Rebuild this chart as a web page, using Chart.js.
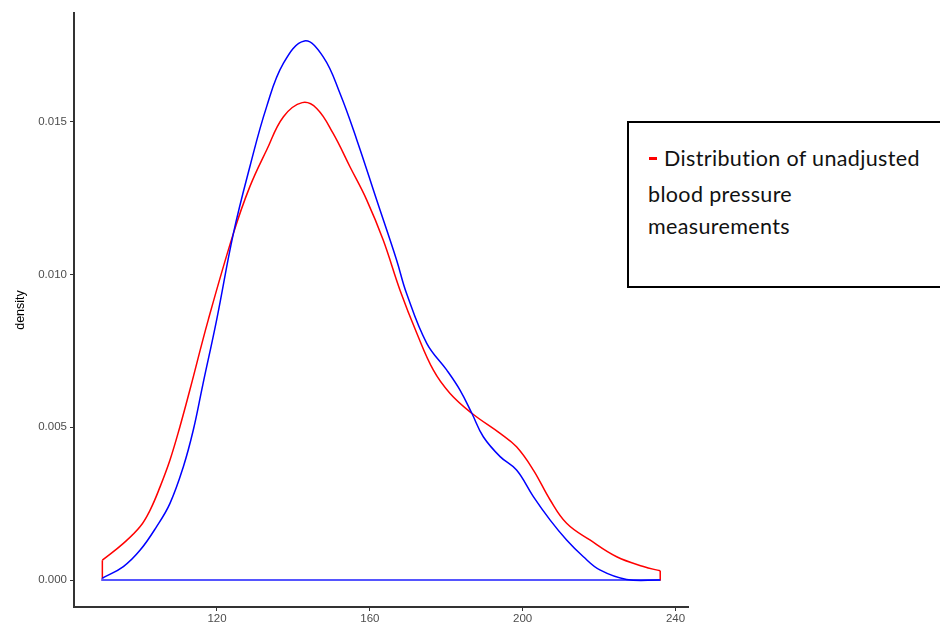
<!DOCTYPE html>
<html>
<head>
<meta charset="utf-8">
<script src="https://cdn.jsdelivr.net/npm/chart.js@4"></script>
<style>
  body { margin: 0; background: #fff; }
  #wrap { position: relative; width: 940px; height: 624px; }
  #legendBox {
    position: absolute; left: 627px; top: 121px; width: 330px; height: 163px;
    border: 2px solid #000; background: #fff;
    font-family: Lato, "Open Sans", sans-serif; font-size: 21.5px; letter-spacing: 0.35px; color: #111;
  }
  #legendBox .ln { position: absolute; white-space: nowrap; line-height: 25.8px; }
  #legendBox .dash { position: absolute; background: #ff0000; }
</style>
</head>
<body>
<div id="wrap">
  <canvas id="myChart" width="940" height="624"></canvas>
  <div id="legendBox">
    <span class="dash" style="left:20px; top:33.5px; width:8px; height:3px;"></span>
    <span class="ln" style="left:35px; top:22.5px;">Distribution of unadjusted</span>
    <span class="ln" style="left:19px; top:59px;">blood pressure</span>
    <span class="ln" style="left:19px; top:91px;">measurements</span>
  </div>
</div>
<script>
// density curves
const redX = [90, 95.5, 99.9, 102.5, 105.1, 107.7, 110.3, 112.9, 117.7, 124.3, 128.6, 133.0, 137.4, 142.3, 146.1, 150.4, 154.8, 159.2, 163.5, 167.9, 172.3, 176.6, 181.0, 186.7, 194.1, 198.4, 202.8, 207.2, 211.5, 217.6, 224.6, 231.6, 236];
const redY = [0.00065, 0.00120, 0.00175, 0.00229, 0.00305, 0.00393, 0.00502, 0.00622, 0.00851, 0.01135, 0.01288, 0.01408, 0.01517, 0.01563, 0.01544, 0.01462, 0.01353, 0.01244, 0.01113, 0.00949, 0.00808, 0.00688, 0.00611, 0.00546, 0.00480, 0.00436, 0.00360, 0.00262, 0.00186, 0.00131, 0.00076, 0.00044, 0.00030];

const blueX = [90, 95.5, 99.9, 104.2, 107.7, 111.2, 113.8, 116.3, 119.9, 124.3, 128.6, 133.0, 137.4, 142.9, 147.8, 152.2, 156.6, 161.8, 167.0, 169.6, 174.9, 180.1, 183.6, 186.7, 189.7, 194.1, 198.4, 202.8, 207.2, 211.5, 215.9, 220.2, 227.2, 236];
const blueY = [0.00006, 0.00044, 0.00098, 0.00175, 0.00251, 0.00371, 0.00491, 0.00640, 0.00851, 0.01135, 0.01353, 0.01550, 0.01692, 0.01765, 0.01713, 0.01593, 0.01441, 0.01244, 0.01048, 0.00939, 0.00775, 0.00688, 0.00622, 0.00546, 0.00469, 0.00404, 0.00360, 0.00273, 0.00196, 0.00131, 0.00076, 0.00033, 0.00002, 0.0];

const xTicks = [120, 160, 200, 240];
const yTicks = [0, 0.005, 0.010, 0.015];

function toPoints(xs, ys) {
  return xs.map((x, i) => ({ x: x, y: ys[i] }));
}

// closing edges of each density outline (down to zero and along the base)
function edgePoints(xs, ys) {
  const n = xs.length - 1;
  return [
    { x: xs[0], y: ys[0] }, { x: xs[0], y: 0 },
    { x: xs[n], y: 0 }, { x: xs[n], y: ys[n] }
  ];
}

const ctx = document.getElementById('myChart').getContext('2d');

new Chart(ctx, {
  type: 'line',
  data: {
    datasets: [
      {
        data: toPoints(blueX, blueY),
        borderColor: '#0000ff', borderWidth: 1.5,
        tension: 0.4, pointRadius: 0, order: 1
      },
      {
        data: edgePoints(blueX, blueY),
        borderColor: '#5555ff', borderWidth: 2,
        tension: 0, pointRadius: 0, order: 2
      },
      {
        data: toPoints(redX, redY),
        borderColor: '#ff0000', borderWidth: 1.5,
        tension: 0.4, pointRadius: 0, order: 3
      },
      {
        data: edgePoints(redX, redY),
        borderColor: '#ff0000', borderWidth: 1.5,
        tension: 0, pointRadius: 0, order: 4
      }
    ]
  },
  options: {
    responsive: false,
    animation: false,
    layout: { padding: { top: 13, right: 252, left: 0, bottom: 0 } },
    plugins: { legend: { display: false }, tooltip: { enabled: false } },
    scales: {
      x: {
        type: 'linear',
        min: 82.58, max: 243.27,
        afterBuildTicks: (scale) => { scale.ticks = xTicks.map(v => ({ value: v })); },
        afterFit: (scale) => { scale.height = 17; },
        ticks: {
          color: '#4d4d4d', padding: 1, maxRotation: 0,
          font: { family: '"Liberation Sans", Arial, sans-serif', size: 11.5 },
          callback: (v) => String(v)
        },
        grid: { drawOnChartArea: false, drawTicks: true, tickLength: 4, color: '#333', lineWidth: 1 },
        border: { display: true, color: '#333', width: 2 }
      },
      y: {
        type: 'linear',
        min: -0.000884, max: 0.018565,
        afterBuildTicks: (scale) => { scale.ticks = yTicks.map(v => ({ value: v })); },
        afterFit: (scale) => { scale.width = 74; },
        ticks: {
          color: '#4d4d4d', padding: 3,
          font: { family: '"Liberation Sans", Arial, sans-serif', size: 11.5 },
          callback: (v) => Number(v).toFixed(3)
        },
        title: {
          display: true, text: 'density', color: '#000',
          padding: { top: 13, bottom: 0 },
          font: { family: '"Liberation Sans", Arial, sans-serif', size: 12.5 }
        },
        grid: { drawOnChartArea: false, drawTicks: true, tickLength: 4, color: '#333', lineWidth: 1 },
        border: { display: true, color: '#333', width: 2 }
      }
    }
  }
});
</script>
</body>
</html>
